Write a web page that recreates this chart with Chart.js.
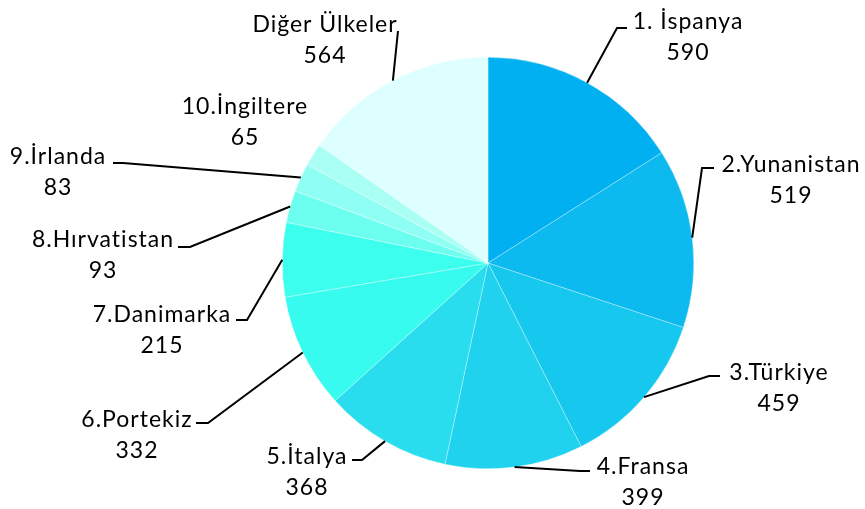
<!DOCTYPE html>
<html>
<head>
<meta charset="utf-8">
<script src="https://cdn.jsdelivr.net/npm/chart.js@4"></script>
<style>
  html, body { margin: 0; padding: 0; background: #fff; }
  #wrap { width: 865px; height: 509px; }
</style>
</head>
<body>
<div id="wrap"><canvas id="grafico"></canvas></div>
<script>
// Veriler
const ulkeler = ['1. İspanya', '2.Yunanistan', '3.Türkiye', '4.Fransa', '5.İtalya', '6.Portekiz',
                 '7.Danimarka', '8.Hırvatistan', '9.İrlanda', '10.İngiltere', 'Diğer Ülkeler'];
const degerler = [590, 519, 459, 399, 368, 332, 215, 93, 83, 65, 564];
const renkler = ['#00B0F0', '#0DBAF0', '#17C8EE', '#20D2EE', '#29DDEF', '#37FBEE',
                 '#3DFFEE', '#6CFFEF', '#90FFF3', '#AAFFF5', '#DDFFFF'];

// Etiket yerleşimi: metin merkezi ve kırılma noktası (Excel'de elle taşınmış gibi)
const etiketYeri = [
    { tx: 688, ty: 22,  kx: 617, ky: 28,  ex: 627 },
    { tx: 791, ty: 165, kx: 702, ky: 168, ex: 714 },
    { tx: 779, ty: 373, kx: 709, ky: 376, ex: 720 },
    { tx: 643, ty: 467, kx: 580, ky: 471, ex: 590 },
    { tx: 307, ty: 457, kx: 362, ky: 460, ex: 352 },
    { tx: 137, ty: 420, kx: 208, ky: 423, ex: 196 },
    { tx: 162, ty: 315, kx: 247, ky: 320, ex: 236 },
    { tx: 103, ty: 240, kx: 190, ky: 247, ex: 178 },
    { tx: 58,  ty: 157, kx: 123, ky: 163, ex: 113 },
    { tx: 245, ty: 107, kx: null },
    { tx: 325, ty: 25,  kx: 398, ky: 31,  ex: 398 }
];

const etiketPlugin = {
    id: 'etiketler',
    afterDraw(chart) {
        const ctx = chart.ctx;
        const meta = chart.getDatasetMeta(0);
        ctx.save();
        meta.data.forEach((arc, i) => {
            const yer = etiketYeri[i];
            const p = arc.getProps(['x', 'y', 'startAngle', 'endAngle', 'outerRadius'], true);
            const orta = (p.startAngle + p.endAngle) / 2;
            if (yer.kx !== null) {
                const sx = p.x + Math.cos(orta) * p.outerRadius;
                const sy = p.y + Math.sin(orta) * p.outerRadius;
                ctx.beginPath();
                ctx.moveTo(sx, sy);
                ctx.lineTo(yer.kx, yer.ky);
                ctx.lineTo(yer.ex, yer.ky);
                ctx.strokeStyle = '#000';
                ctx.lineWidth = 2;
                ctx.stroke();
            }
            ctx.fillStyle = '#000';
            ctx.font = '23px Lato';
            ctx.letterSpacing = '1px';
            ctx.textAlign = 'center';
            ctx.textBaseline = 'middle';
            ctx.fillText(ulkeler[i], yer.tx, yer.ty);
            ctx.fillText(String(degerler[i]), yer.tx, yer.ty + 31);
        });
        ctx.restore();
    }
};

new Chart(document.getElementById('grafico'), {
    type: 'pie',
    data: {
        labels: ulkeler,
        datasets: [{
            data: degerler,
            backgroundColor: renkler,
            borderColor: 'rgba(255,255,255,0.6)',
            borderWidth: 0.5
        }]
    },
    options: {
        responsive: true,
        maintainAspectRatio: false,
        animation: false,
        layout: { padding: { top: 57, bottom: 40, left: 282, right: 171 } },
        plugins: {
            legend: { display: false },
            tooltip: { enabled: false }
        }
    },
    plugins: [etiketPlugin]
});
</script>
</body>
</html>
